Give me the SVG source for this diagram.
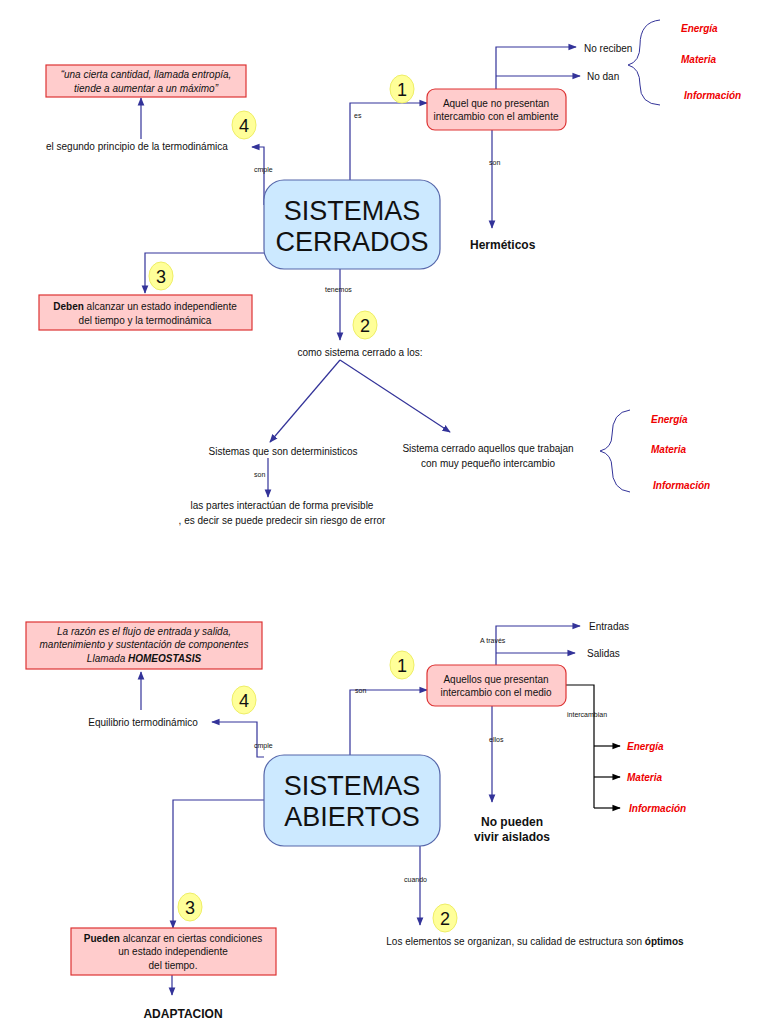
<svg xmlns="http://www.w3.org/2000/svg" width="768" height="1024" viewBox="0 0 768 1024">
<defs>
<marker id="a" viewBox="0 0 10 10" refX="9" refY="5" markerWidth="7" markerHeight="7" orient="auto"><path d="M0,1 L10,5 L0,9 z" fill="#333399"/></marker>
<marker id="k" viewBox="0 0 10 10" refX="9" refY="5" markerWidth="7" markerHeight="7" orient="auto"><path d="M0,1 L10,5 L0,9 z" fill="#000"/></marker>
<style>
text{font-family:"Liberation Sans",Arial,sans-serif;font-size:10px;fill:#111}
.c{text-anchor:middle}
.pink{fill:#ffcccc;stroke:#dd3333;stroke-width:1.2}
.main{fill:#cce9ff;stroke:#5566aa;stroke-width:1.2}
.big{font-size:27px;text-anchor:middle}
.badge{fill:#ffff99;stroke:#eeee66}
.bn{font-size:18px;text-anchor:middle}
.red{fill:#ee0000;font-weight:bold;font-style:italic}
.ln{fill:none;stroke:#333399;stroke-width:1.2}
.lk{fill:none;stroke:#000;stroke-width:1.2}
.lab{font-size:7px}
.b{font-weight:bold;font-size:12px}
.br{fill:none;stroke:#333399;stroke-width:1}
</style>
</defs>
<g id="connectors">
<path class="ln" d="M350,180 V103 H427" marker-end="url(#a)"/>
<path class="ln" d="M496,89 V47 H576" marker-end="url(#a)"/>
<path class="ln" d="M496,76 H580" marker-end="url(#a)"/>
<path class="ln" d="M492,130 V228" marker-end="url(#a)"/>
<path class="ln" d="M264,205 V147 H252" marker-end="url(#a)"/>
<path class="ln" d="M141,139 V98" marker-end="url(#a)"/>
<path class="ln" d="M264,253 H145 V293" marker-end="url(#a)"/>
<path class="ln" d="M340,269 V340" marker-end="url(#a)"/>
<path class="ln" d="M340,360 L270,442" marker-end="url(#a)"/>
<path class="ln" d="M340,360 L450,432" marker-end="url(#a)"/>
<path class="ln" d="M268,458 V497" marker-end="url(#a)"/>
<path class="br" d="M660,20 Q640,22 640,45 Q640,62 628,65 Q640,68 640,85 Q640,104 660,105"/>
<path class="br" d="M630,410 Q612,412 612,435 Q612,448 600,451 Q612,454 612,468 Q612,490 630,492"/>
<path class="ln" d="M350,755 V690 H427" marker-end="url(#a)"/>
<path class="ln" d="M496,665 V626 H580" marker-end="url(#a)"/>
<path class="ln" d="M496,653 H575" marker-end="url(#a)"/>
<path class="lk" d="M566,685 H594 V808"/>
<path class="lk" d="M594,746 H620" marker-end="url(#k)"/>
<path class="lk" d="M594,777 H620" marker-end="url(#k)"/>
<path class="lk" d="M594,808 H620" marker-end="url(#k)"/>
<path class="ln" d="M492,706 V802" marker-end="url(#a)"/>
<path class="ln" d="M264,757 H257 V722 H212" marker-end="url(#a)"/>
<path class="ln" d="M141,710 V672" marker-end="url(#a)"/>
<path class="ln" d="M264,800 H173 V928" marker-end="url(#a)"/>
<path class="ln" d="M172,975 V995" marker-end="url(#a)"/>
<path class="ln" d="M420,846 V925" marker-end="url(#a)"/>
</g>
<g id="labels">
<text class="lab" x="354" y="118">es</text>
<text class="lab" x="489" y="165">son</text>
<text class="lab" x="254" y="172">cmple</text>
<text class="lab" x="325" y="292">tenemos</text>
<text class="lab" x="254" y="477">son</text>
<text class="lab" x="355" y="693">son</text>
<text class="lab" x="480" y="643">A través</text>
<text class="lab" x="567" y="717">intercambian</text>
<text class="lab" x="489" y="742">ellos</text>
<text class="lab" x="254" y="748">cmple</text>
<text class="lab" x="404" y="882">cuando</text>
</g>
<g id="n-cerrados"><rect class="main" x="264" y="180" width="176" height="89" rx="20"/><text class="big" x="352" y="220">SISTEMAS</text><text class="big" x="352" y="251">CERRADOS</text></g>
<g id="n-quote1"><rect class="pink" x="46" y="65" width="200" height="32"/><text class="c" x="146" y="78" font-style="italic">“una cierta cantidad, llamada entropía,</text><text class="c" x="146" y="92" font-style="italic">tiende a aumentar a un máximo”</text></g>
<g id="b1a"><ellipse class="badge" cx="402" cy="89" rx="12" ry="14"/><text class="bn" x="402" y="96">1</text></g>
<g id="b4a"><ellipse class="badge" cx="244" cy="125" rx="12" ry="14"/><text class="bn" x="244" y="132">4</text></g>
<g id="b3a"><ellipse class="badge" cx="161" cy="276" rx="12" ry="14"/><text class="bn" x="161" y="283">3</text></g>
<g id="b2a"><ellipse class="badge" cx="365" cy="325" rx="12" ry="14"/><text class="bn" x="365" y="332">2</text></g>
<g id="n-aquel"><rect class="pink" x="427" y="89" width="139" height="41" rx="8"/><text class="c" x="496" y="107">Aquel que no presentan</text><text class="c" x="496" y="120">intercambio con el ambiente</text></g>
<g id="n-noreciben"><text x="584" y="52">No reciben</text></g>
<g id="n-nodan"><text x="587" y="80">No dan</text></g>
<g id="n-ema"><text class="red" x="681" y="32">Energía</text><text class="red" x="681" y="63">Materia</text><text class="red" x="684" y="99">Información</text></g>
<g id="n-herm"><text class="b" x="470" y="249">Herméticos</text></g>
<g id="n-segundo"><text x="46" y="150">el segundo principio de la termodinámica</text></g>
<g id="n-deben"><rect class="pink" x="39" y="295" width="213" height="35"/><text class="c" x="145" y="310"><tspan font-weight="bold">Deben</tspan> alcanzar un estado independiente</text><text class="c" x="145" y="324">del tiempo y la termodinámica</text></g>
<g id="n-como"><text class="c" x="360" y="356">como sistema cerrado a los:</text></g>
<g id="n-det"><text class="c" x="283" y="455">Sistemas que son deterministicos</text></g>
<g id="n-partes"><text class="c" x="282" y="509">las partes interactúan de forma previsible</text><text class="c" x="282" y="524">, es decir se puede predecir sin riesgo de error</text></g>
<g id="n-trabajan"><text class="c" x="488" y="452">Sistema cerrado aquellos que trabajan</text><text class="c" x="488" y="467">con muy pequeño intercambio</text></g>
<g id="n-ema2"><text class="red" x="651" y="423">Energía</text><text class="red" x="651" y="453">Materia</text><text class="red" x="653" y="489">Información</text></g>

<g id="n-abiertos"><rect class="main" x="264" y="755" width="176" height="91" rx="20"/><text class="big" x="352" y="795">SISTEMAS</text><text class="big" x="352" y="826">ABIERTOS</text></g>
<g id="n-quote2"><rect class="pink" x="26" y="622" width="236" height="47"/><text class="c" x="144" y="635" font-style="italic">La razón es el flujo de entrada y salida,</text><text class="c" x="144" y="648" font-style="italic">mantenimiento y sustentación de componentes</text><text class="c" x="144" y="662" font-style="italic">Llamada <tspan font-weight="bold">HOMEOSTASIS</tspan></text></g>
<g id="b1b"><ellipse class="badge" cx="402" cy="665" rx="12" ry="14"/><text class="bn" x="402" y="672">1</text></g>
<g id="b4b"><ellipse class="badge" cx="244" cy="700" rx="12" ry="14"/><text class="bn" x="244" y="707">4</text></g>
<g id="b3b"><ellipse class="badge" cx="190" cy="907" rx="12" ry="14"/><text class="bn" x="190" y="914">3</text></g>
<g id="b2b"><ellipse class="badge" cx="445" cy="918" rx="12" ry="14"/><text class="bn" x="445" y="925">2</text></g>
<g id="n-aquellos"><rect class="pink" x="427" y="665" width="139" height="41" rx="8"/><text class="c" x="496" y="683">Aquellos que presentan</text><text class="c" x="496" y="696">intercambio con el medio</text></g>
<g id="n-entradas"><text x="589" y="630">Entradas</text></g>
<g id="n-salidas"><text x="587" y="657">Salidas</text></g>
<g id="n-ema3"><text class="red" x="627" y="750">Energía</text><text class="red" x="627" y="781">Materia</text><text class="red" x="629" y="812">Información</text></g>
<g id="n-nopueden"><text class="b c" x="512" y="826">No pueden</text><text class="b c" x="512" y="841">vivir aislados</text></g>
<g id="n-equilibrio"><text class="c" x="143" y="726">Equilibrio termodinámico</text></g>
<g id="n-pueden"><rect class="pink" x="71" y="928" width="205" height="47"/><text class="c" x="173" y="942"><tspan font-weight="bold">Pueden</tspan> alcanzar en ciertas condiciones</text><text class="c" x="173" y="955">un estado independiente</text><text class="c" x="173" y="969">del tiempo.</text></g>
<g id="n-adapt"><text class="b c" x="183" y="1018">ADAPTACION</text></g>
<g id="n-elementos"><text class="c" x="535" y="945">Los elementos se organizan, su calidad de estructura son <tspan font-weight="bold">óptimos</tspan></text></g>
</svg>
